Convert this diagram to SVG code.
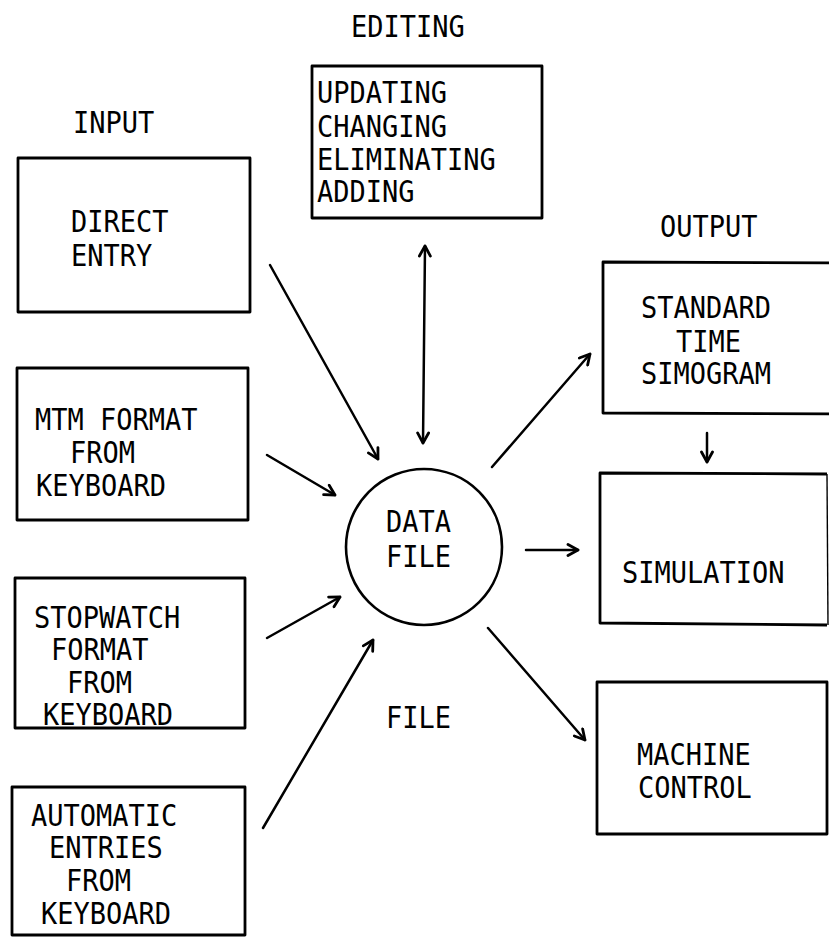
<svg xmlns="http://www.w3.org/2000/svg" width="829" height="940" viewBox="0 0 829 940">
  <style>
    .box { fill: none; stroke: #000; stroke-width: 2.8; stroke-linejoin: round; }
    .thin { fill: none; stroke: #000; stroke-width: 1.4; }
    .circle { fill: none; stroke: #000; stroke-width: 2.6; }
    .link { fill: none; stroke: #000; stroke-width: 2.5; stroke-linecap: round; }
    text { font-family: "DejaVu Sans Mono", "Liberation Mono", monospace; font-size: 30px; fill: #000; }
  </style>
  <defs>
    <marker id="head" viewBox="0 0 14 14" refX="12" refY="7" markerWidth="14" markerHeight="14"
            markerUnits="userSpaceOnUse" orient="auto-start-reverse">
      <path d="M2,1.5 L12,7 L2,12.5" fill="none" stroke="#000" stroke-width="2.8"
            stroke-linecap="round" stroke-linejoin="round"/>
    </marker>
  </defs>

  <!-- column headings -->
  <g id="headings">
    <text transform="translate(73,133) scale(0.9,1)">INPUT</text>
    <text transform="translate(351,37) scale(0.9,1)">EDITING</text>
    <text transform="translate(660,237) scale(0.9,1)">OUTPUT</text>
    <text transform="translate(386,728) scale(0.9,1)">FILE</text>
  </g>

  <!-- input sources -->
  <g id="direct-entry">
    <rect class="box" x="18" y="158" width="232" height="154"/>
    <text transform="translate(71,232) scale(0.9,1)">DIRECT</text>
    <text transform="translate(71,266) scale(0.9,1)">ENTRY</text>
  </g>

  <g id="mtm-format">
    <rect class="box" x="17" y="368" width="231" height="152"/>
    <text transform="translate(35,430) scale(0.9,1)">MTM FORMAT</text>
    <text transform="translate(70,463) scale(0.9,1)">FROM</text>
    <text transform="translate(36,496) scale(0.9,1)">KEYBOARD</text>
  </g>

  <g id="stopwatch-format">
    <rect class="box" x="15" y="578" width="230" height="150"/>
    <text transform="translate(34,628) scale(0.9,1)">STOPWATCH</text>
    <text transform="translate(51,660) scale(0.9,1)">FORMAT</text>
    <text transform="translate(67,693) scale(0.9,1)">FROM</text>
    <text transform="translate(43,725) scale(0.9,1)">KEYBOARD</text>
  </g>

  <g id="automatic-entries">
    <rect class="box" x="12" y="787" width="233" height="148"/>
    <text transform="translate(31,826) scale(0.9,1)">AUTOMATIC</text>
    <text transform="translate(49,858) scale(0.9,1)">ENTRIES</text>
    <text transform="translate(66,891) scale(0.9,1)">FROM</text>
    <text transform="translate(41,924) scale(0.9,1)">KEYBOARD</text>
  </g>

  <!-- editing operations -->
  <g id="editing">
    <rect class="box" x="312" y="66" width="230" height="152"/>
    <text transform="translate(317,103) scale(0.9,1)">UPDATING</text>
    <text transform="translate(317,137) scale(0.9,1)">CHANGING</text>
    <text transform="translate(317,170) scale(0.9,1)">ELIMINATING</text>
    <text transform="translate(317,202) scale(0.9,1)">ADDING</text>
  </g>

  <!-- central store -->
  <g id="data-file">
    <circle class="circle" cx="424" cy="547" r="78"/>
    <text transform="translate(386,532) scale(0.9,1)">DATA</text>
    <text transform="translate(386,567) scale(0.9,1)">FILE</text>
  </g>

  <!-- outputs -->
  <g id="standard-time-simogram">
    <path class="box" d="M838,263 L603,262 L603,413 L838,414"/>
    <text transform="translate(641,318) scale(0.9,1)">STANDARD</text>
    <text transform="translate(676,352) scale(0.9,1)">TIME</text>
    <text transform="translate(641,384) scale(0.9,1)">SIMOGRAM</text>
  </g>

  <g id="simulation">
    <path class="box" d="M827,474 L600,473 L600,623 L827,625"/>
    <line class="thin" x1="827" y1="474" x2="828" y2="625"/>
    <text transform="translate(622,583) scale(0.9,1)">SIMULATION</text>
  </g>

  <g id="machine-control">
    <rect class="box" x="597" y="682" width="230" height="152"/>
    <text transform="translate(637,765) scale(0.9,1)">MACHINE</text>
    <text transform="translate(638,798) scale(0.9,1)">CONTROL</text>
  </g>

  <!-- connectors -->
  <g id="connectors">
    <line class="link" x1="270" y1="265" x2="378" y2="459" marker-end="url(#head)"/>
    <line class="link" x1="267" y1="455" x2="335" y2="495" marker-end="url(#head)"/>
    <line class="link" x1="267" y1="638" x2="340" y2="597" marker-end="url(#head)"/>
    <line class="link" x1="263" y1="828" x2="373" y2="640" marker-end="url(#head)"/>
    <line class="link" x1="425" y1="246" x2="423" y2="443" marker-start="url(#head)" marker-end="url(#head)"/>
    <line class="link" x1="492" y1="467" x2="590" y2="354" marker-end="url(#head)"/>
    <line class="link" x1="526" y1="550" x2="578" y2="550" marker-end="url(#head)"/>
    <line class="link" x1="488" y1="628" x2="585" y2="740" marker-end="url(#head)"/>
    <line class="link" x1="707" y1="433" x2="707" y2="462" marker-end="url(#head)"/>
  </g>
</svg>
